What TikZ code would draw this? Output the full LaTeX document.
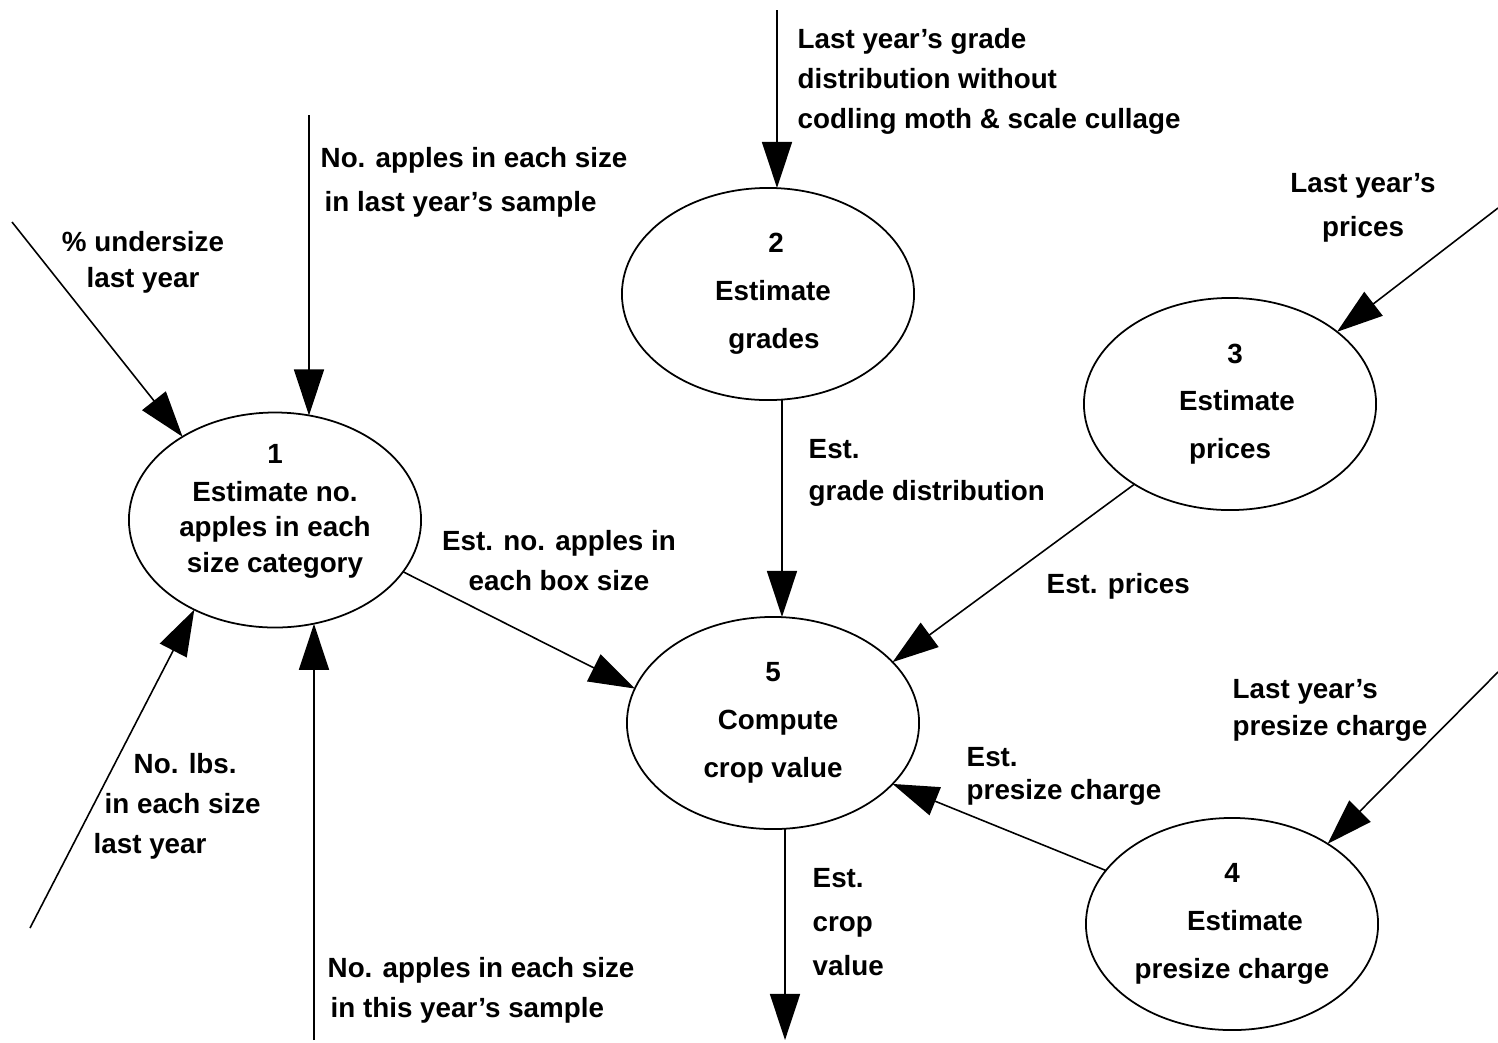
\documentclass[tikz,border=0pt]{standalone}
\usepackage{fontspec}
\setmainfont{Liberation Sans}
\usetikzlibrary{arrows.meta,positioning,shapes.geometric,calc}

\begin{document}
\begin{tikzpicture}[
  x=0.01cm, y=-0.01cm,
  proc/.style={ellipse, draw, line width=0.5pt, minimum width=2.92cm,
               minimum height=2.12cm, inner sep=0pt, outer sep=0pt, align=center,
               font=\fontsize{7.9}{13.6}\selectfont\bfseries},
  lbl/.style={align=left, inner sep=0pt,
              font=\fontsize{7.9}{11.4}\selectfont\bfseries},
  flow/.style={line width=0.45pt, -{Triangle[length=4.6mm, width=3mm]}}
]
  \useasboundingbox (0,0) rectangle (1498,1042);

  % processes
  \node[proc, font=\fontsize{7.9}{10}\selectfont\bfseries] (e1) at (275,520)
    {1\\[1pt]Estimate no.\\apples in each\\size category\\[-3.2pt]\mbox{}};
  \node[proc] (e2) at (768,294) {\hspace*{1.6mm}2\\\hspace*{1mm}Estimate\\\hspace*{1.2mm}grades};
  \node[proc] (e3) at (1230,404) {\hspace*{1mm}3\\\hspace*{1.4mm}Estimate\\prices};
  \node[proc] (e5) at (773,723) {5\\\hspace*{1mm}Compute\\crop value};
  \node[proc] (e4) at (1232,924) {4\\\hspace*{2.6mm}Estimate\\presize charge};

  % free ends
  \coordinate (u1) at (12,222);
  \coordinate (u2) at (309,115);
  \coordinate (u3) at (30,928);
  \coordinate (u4) at (314,1040);
  \coordinate (g1) at (777,10);
  \coordinate (p1) at (1498,208);
  \coordinate (c1) at (1498,672);
  \coordinate (out) at (785,1040);

  % flows
  \draw[flow] (u1) -- (e1.138);
  \draw[flow] (u2) -- (u2 |- e1.72);
  \draw[flow] (u3) -- (e1.228);
  \draw[flow] (u4) -- (u4 |- e1.-70);
  \draw[flow] (e1.-22) -- (e5.166);
  \draw[flow] (g1) -- (g1 |- e2.north);
  \draw[flow] ($(e2.south)+(14,0)$) -- ($(e5.north)+(9,0)$);
  \draw[flow] (p1) -- (e3.34);
  \draw[flow] (e3.220) -- (e5.27);
  \draw[flow] (c1) -- (e4.40);
  \draw[flow] (e4.157) -- (e5.-27);
  \draw[flow] ($(e5.south)+(12,0)$) -- (out);

  % labels
  \node[lbl, align=center, font=\fontsize{7.9}{10.2}\selectfont\bfseries] (l1) at (143,262)
    {\% undersize\\last year};
  \node[lbl, anchor=west, font=\fontsize{7.9}{12.5}\selectfont\bfseries] (l2) at (320,182)
    {No. apples in each size\\\hspace*{0.4mm}in last year's sample};
  \node[lbl, anchor=west] (l3) at (93,806)
    {\hspace*{4mm}No. lbs.\\\hspace*{1.1mm}in each size\\last year};
  \node[lbl, anchor=west] (l4) at (327,990)
    {No. apples in each size\\\hspace*{0.3mm}in this year's sample};
  \node[lbl, align=center] (l5) at (559,561)
    {Est. no. apples in\\each box size};
  \node[lbl, anchor=west] (l6) at (797,81)
    {Last year's grade\\distribution without\\codling moth \& scale cullage};
  \node[lbl, anchor=west, font=\fontsize{7.9}{12}\selectfont\bfseries] (l7) at (808,473)
    {Est.\\grade distribution};
  \node[lbl, align=center, font=\fontsize{7.9}{12.5}\selectfont\bfseries] (l8) at (1363,208)
    {Last year's\\prices};
  \node[lbl, anchor=west] (l9) at (1046,586) {Est. prices};
  \node[lbl, anchor=west, font=\fontsize{7.9}{10.5}\selectfont\bfseries] (l10) at (1232,710)
    {Last year's\\presize charge};
  \node[lbl, anchor=west, font=\fontsize{7.9}{9.4}\selectfont\bfseries] (l11) at (966,776)
    {Est.\\presize charge};
  \node[lbl, anchor=west, font=\fontsize{7.9}{12.5}\selectfont\bfseries] (l12) at (812,922)
    {Est.\\crop\\value};
\end{tikzpicture}
\end{document}
